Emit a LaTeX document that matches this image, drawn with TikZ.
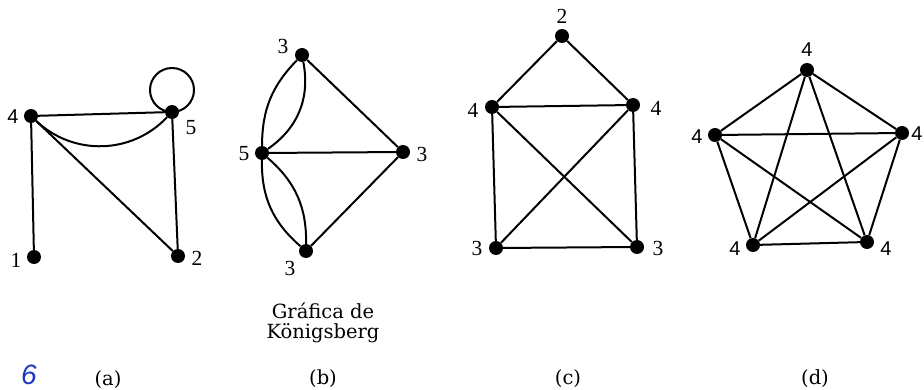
\documentclass[tikz,border=0pt]{standalone}
\usepackage{fontspec}
\setmainfont{Liberation Serif}
\newfontfamily\sansf{Liberation Sans}
\newfontfamily\capf{DejaVu Serif}
\definecolor{penblue}{HTML}{1E35C4}
\begin{document}
\begin{tikzpicture}[x=1pt,y=1pt,
  vtx/.style={circle,fill=black,inner sep=0pt,minimum size=14pt},
  lbl/.style={inner sep=0pt,font=\fontsize{21.5}{24}\selectfont},
  slbl/.style={inner sep=0pt,font=\sansf\fontsize{20}{22}\selectfont},
  capt/.style={inner sep=0pt,font=\capf\fontsize{19.5}{23}\selectfont},
  edge/.style={line width=2pt}]
\useasboundingbox (0,0) rectangle (924,-390);
\fill[white] (0,0) rectangle (924,-390);
% ---------- (a)
\node[vtx] (a4) at (31,-116) {};
\node[vtx] (a5) at (172,-112) {};
\node[vtx] (a1) at (34,-257) {};
\node[vtx] (a2) at (178,-256) {};
\node[slbl] (la4) at (13,-117) {4};
\node[lbl] (la5) at (191,-128) {5};
\node[lbl] (la1) at (16,-260) {1};
\node[lbl] (la2) at (197,-258) {2};
\draw[edge] (a4) -- (a5);
\draw[edge] (a4) to[bend right=45] (a5);
\draw[edge] (a4) -- (a1);
\draw[edge] (a4) -- (a2);
\draw[edge] (a5) -- (a2);
\draw[edge] (a5.center) arc[start angle=-90,end angle=270,radius=22];
\node[capt] (capa) at (108,-380) {(a)};
\node[inner sep=0pt,text=penblue,font=\sansf\itshape\fontsize{28}{30}\selectfont] (six) at (29,-375) {6};
% ---------- (b)
\node[vtx] (bt) at (302,-55) {};
\node[vtx] (b5) at (262,-153) {};
\node[vtx] (br) at (403,-152) {};
\node[vtx] (bb) at (306,-251) {};
\node[lbl] (lbt) at (283,-46) {3};
\node[lbl] (lb5) at (244,-154) {5};
\node[lbl] (lbr) at (422,-154) {3};
\node[lbl] (lbb) at (290,-268) {3};
\draw[edge] (bt) to[bend right=22] (b5);
\draw[edge] (bt) to[bend left=33] (b5);
\draw[edge] (b5) to[bend right=25] (bb);
\draw[edge] (b5) to[bend left=25] (bb);
\draw[edge] (b5) -- (br);
\draw[edge] (bt) -- (br);
\draw[edge] (bb) -- (br);
\node[capt,align=center] (capk) at (323,-323) {Gráfica de\\[-3pt]Königsberg};
\node[capt] (capb) at (323,-379) {(b)};
% ---------- (c)
\node[vtx] (ct) at (562,-36) {};
\node[vtx] (cl) at (492,-107) {};
\node[vtx] (cr) at (633,-105) {};
\node[vtx] (cbl) at (496,-248) {};
\node[vtx] (cbr) at (637,-247) {};
\node[lbl] (lct) at (562,-16) {2};
\node[lbl] (lcl) at (473,-110) {4};
\node[lbl] (lcr) at (656,-108) {4};
\node[lbl] (lcbl) at (477,-248) {3};
\node[lbl] (lcbr) at (658,-248) {3};
\draw[edge] (ct) -- (cl);
\draw[edge] (ct) -- (cr);
\draw[edge] (cl) -- (cr);
\draw[edge] (cl) -- (cbl);
\draw[edge] (cr) -- (cbr);
\draw[edge] (cbl) -- (cbr);
\draw[edge] (cl) -- (cbr);
\draw[edge] (cr) -- (cbl);
\node[capt] (capc) at (568,-379) {(c)};
% ---------- (d)
\node[vtx] (dt) at (807,-70) {};
\node[vtx] (dl) at (715,-135) {};
\node[vtx] (dr) at (902,-133) {};
\node[vtx] (dbl) at (753,-245) {};
\node[vtx] (dbr) at (867,-242) {};
\node[slbl] (ldt) at (807,-50) {4};
\node[slbl] (ldl) at (697,-137) {4};
\node[slbl] (ldr) at (917,-134) {4};
\node[slbl] (ldbl) at (735,-249) {4};
\node[slbl] (ldbr) at (886,-249) {4};
\draw[edge] (dt) -- (dl);
\draw[edge] (dt) -- (dr);
\draw[edge] (dt) -- (dbl);
\draw[edge] (dt) -- (dbr);
\draw[edge] (dl) -- (dr);
\draw[edge] (dl) -- (dbl);
\draw[edge] (dl) -- (dbr);
\draw[edge] (dr) -- (dbl);
\draw[edge] (dr) -- (dbr);
\draw[edge] (dbl) -- (dbr);
\node[capt] (capd) at (815,-379) {(d)};
\end{tikzpicture}
\end{document}
